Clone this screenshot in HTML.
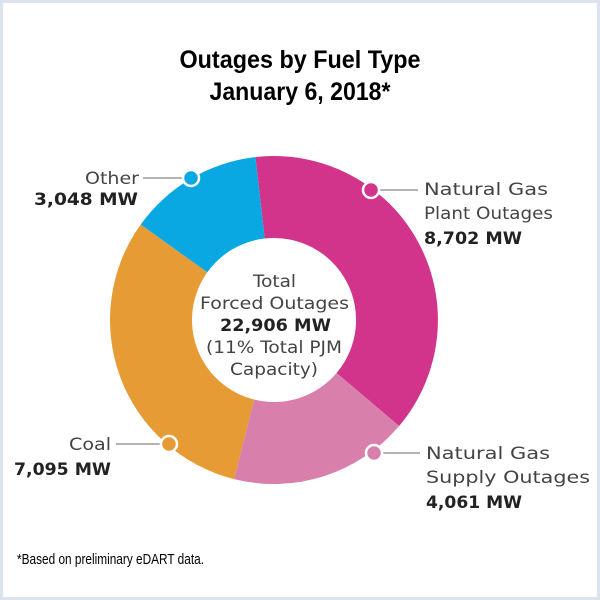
<!DOCTYPE html>
<html><head><style>
html,body{margin:0;padding:0;background:#fff}
svg{display:block}
</style></head><body>
<svg width="600" height="600" viewBox="0 0 600 600" xmlns="http://www.w3.org/2000/svg">
<rect x="1.5" y="1.5" width="597" height="597" fill="#fff" stroke="#dce3ec" stroke-width="3"/>
<g font-family="Liberation Sans, Arial, sans-serif" font-weight="bold" fill="#000" text-anchor="middle">
<text x="300" y="68" font-size="25" textLength="241" lengthAdjust="spacingAndGlyphs">Outages by Fuel Type</text>
<text x="300" y="100" font-size="25" textLength="181" lengthAdjust="spacingAndGlyphs">January 6, 2018*</text>
</g>
<path d="M255.4,157.1 A164,164 0 0 1 399.1,426 L336.6,373 A82,82 0 0 0 264.7,238.5 Z" fill="#d1348a"/>
<path d="M399.1,426 A164,164 0 0 1 234.1,479.1 L254,399.5 A82,82 0 0 0 336.6,373 Z" fill="#d97fab"/>
<path d="M234.1,479.1 A164,164 0 0 1 140.7,224.5 L207.3,272.3 A82,82 0 0 0 254,399.5 Z" fill="#e69b34"/>
<path d="M140.7,224.5 A164,164 0 0 1 255.4,157.1 L264.7,238.5 A82,82 0 0 0 207.3,272.3 Z" fill="#0aa8e3"/>
<g stroke="#888" stroke-width="1.2">
<line x1="143" y1="178" x2="184" y2="178"/>
<line x1="378" y1="190" x2="418" y2="190"/>
<line x1="116" y1="444" x2="162" y2="444"/>
<line x1="380" y1="453" x2="420" y2="453"/>
</g>
<g stroke="#fff" stroke-width="2.5">
<circle cx="191" cy="178" r="8" fill="#0aa8e3"/>
<circle cx="371" cy="190" r="8" fill="#d1348a"/>
<circle cx="169" cy="444" r="8" fill="#e69b34"/>
<circle cx="374" cy="453" r="8" fill="#d97fab"/>
</g>
<g font-family="DejaVu Sans, Liberation Sans, sans-serif" font-size="17" fill="#444">
<text x="139" y="184" text-anchor="end" textLength="54" lengthAdjust="spacingAndGlyphs">Other</text>
<text x="138" y="205" text-anchor="end" font-weight="bold" fill="#222" textLength="104" lengthAdjust="spacingAndGlyphs">3,048 MW</text>
<text x="424" y="195" textLength="124" lengthAdjust="spacingAndGlyphs">Natural Gas</text>
<text x="424" y="219" textLength="129" lengthAdjust="spacingAndGlyphs">Plant Outages</text>
<text x="424" y="244" font-weight="bold" fill="#222" textLength="98" lengthAdjust="spacingAndGlyphs">8,702 MW</text>
<text x="111" y="450" text-anchor="end" textLength="42" lengthAdjust="spacingAndGlyphs">Coal</text>
<text x="111" y="475" text-anchor="end" font-weight="bold" fill="#222" textLength="97" lengthAdjust="spacingAndGlyphs">7,095 MW</text>
<text x="426" y="459" textLength="124" lengthAdjust="spacingAndGlyphs">Natural Gas</text>
<text x="426" y="483" textLength="164" lengthAdjust="spacingAndGlyphs">Supply Outages</text>
<text x="426" y="508" font-weight="bold" fill="#222" textLength="96" lengthAdjust="spacingAndGlyphs">4,061 MW</text>
<g text-anchor="middle">
<text x="274.5" y="287" textLength="43" lengthAdjust="spacingAndGlyphs">Total</text>
<text x="274.5" y="309" textLength="149" lengthAdjust="spacingAndGlyphs">Forced Outages</text>
<text x="275.5" y="331" font-weight="bold" fill="#222" textLength="111" lengthAdjust="spacingAndGlyphs">22,906 MW</text>
<text x="274" y="353" textLength="136" lengthAdjust="spacingAndGlyphs">(11% Total PJM</text>
<text x="274" y="375" textLength="88" lengthAdjust="spacingAndGlyphs">Capacity)</text>
</g>
</g>
<text x="17" y="564" font-family="Liberation Sans, Arial, sans-serif" font-size="15" fill="#000" textLength="187" lengthAdjust="spacingAndGlyphs">*Based on preliminary eDART data.</text>
</svg>
</body></html>
